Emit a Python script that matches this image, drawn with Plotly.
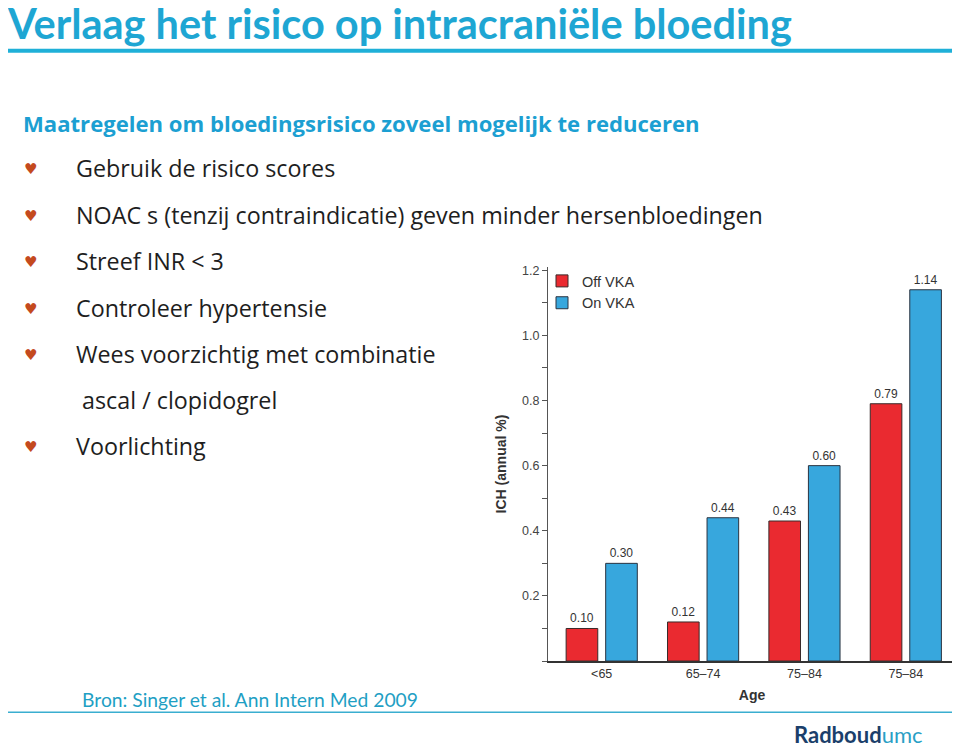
import plotly.graph_objects as go

# page body has an 8px margin, so the figure is sized to fill the rest of the window
OFF = 8
W, H = 960 - OFF, 749 - OFF

# ---- data ----
age_groups = ["<65", "65\u201374", "75\u201384", "75\u201384"]
off_vka = [0.10, 0.12, 0.43, 0.79]
on_vka = [0.30, 0.44, 0.60, 1.14]
y_ticks = [0.2, 0.4, 0.6, 0.8, 1.0, 1.2]

title = "Verlaag het risico op intracrani\u00eble bloeding"
subtitle = "Maatregelen om bloedingsrisico zoveel mogelijk te reduceren"
bullets = [
    ("Gebruik de risico scores", True),
    ("NOAC s (tenzij contraindicatie) geven minder hersenbloedingen", True),
    ("Streef INR < 3", True),
    ("Controleer hypertensie", True),
    ("Wees voorzichtig met combinatie", True),
    (" ascal / clopidogrel", False),
    ("Voorlichting", True),
]
source = "Bron: Singer et al. Ann Intern Med 2009"


def px(x):
    return (x - OFF) / W


def py(y):
    return 1 - (y - OFF) / H


xpos = list(range(len(age_groups)))
chart_font = "Liberation Sans, Arial, sans-serif"
teal = "#1ea6d3"

fig = go.Figure()
fig.add_trace(go.Bar(
    x=xpos, y=off_vka, name="Off VKA",
    marker=dict(color="#ea2a30", line=dict(color="#3a2a2a", width=1)),
    text=[f"{v:.2f}" for v in off_vka], textposition="outside",
    textfont=dict(size=12, color="#333333", family=chart_font),
    cliponaxis=False,
))
fig.add_trace(go.Bar(
    x=xpos, y=on_vka, name="On VKA",
    marker=dict(color="#37a7dd", line=dict(color="#2a3340", width=1)),
    text=[f"{v:.2f}" for v in on_vka], textposition="outside",
    textfont=dict(size=12, color="#333333", family=chart_font),
    cliponaxis=False,
))

fig.update_layout(
    width=W, height=H,
    margin=dict(l=0, r=0, t=0, b=0),
    paper_bgcolor="white", plot_bgcolor="white",
    barmode="group", bargap=0.22, bargroupgap=0.2,
    showlegend=True,
    legend=dict(x=px(542), y=py(263), xanchor="left", yanchor="top",
                font=dict(size=14.5, family=chart_font, color="#333333"),
                bgcolor="rgba(0,0,0,0)", tracegroupgap=0, itemwidth=30),
    xaxis=dict(
        domain=[px(548), px(956)], range=[-0.53, 3.495],
        tickvals=xpos, ticktext=age_groups, showline=True, linecolor="#333333",
        linewidth=1.5, ticks="", showgrid=False, zeroline=False,
        tickfont=dict(size=12.5, color="#333333", family=chart_font),
        title=dict(text="<b>Age</b>", font=dict(size=14, color="#333333", family=chart_font), standoff=10),
    ),
    yaxis=dict(
        domain=[py(660.7), py(265)], range=[0, 1.21],
        tickvals=y_ticks, tickformat=".1f", showline=True, linecolor="#555555",
        linewidth=1.2, ticks="outside", ticklen=5, tickcolor="#555555",
        minor=dict(ticks="outside", dtick=0.1, ticklen=5, tickcolor="#555555"),
        showgrid=False, zeroline=False,
        tickfont=dict(size=12.5, color="#444444", family=chart_font),
        title=dict(text="<b>ICH (annual %)</b>", font=dict(size=14, color="#333333", family=chart_font), standoff=12),
    ),
)

ann = []
ann.append(dict(text="<b>" + title + "</b>", x=px(5), y=py(20), xanchor="left", yanchor="middle",
                font=dict(size=41.5, color=teal, family="Lato, sans-serif")))
ann.append(dict(text="<b>" + subtitle + "</b>", x=px(21), y=py(120), xanchor="left", yanchor="middle",
                font=dict(size=22.1, color="#1c9fd2", family="Open Sans, sans-serif")))
row_y = [166, 213, 259, 306, 352, 399, 445]
for (txt, has_b), yy in zip(bullets, row_y):
    if has_b:
        ann.append(dict(text="\u2665", x=px(30), y=py(yy + 1), xanchor="center", yanchor="middle",
                        font=dict(size=15, color="#c44a1e", family="DejaVu Sans")))
    ann.append(dict(text=txt, x=px(74), y=py(yy), xanchor="left", yanchor="middle",
                    font=dict(size=23.3, color="#1e1e1e", family="Open Sans, sans-serif")))
ann.append(dict(text=source, x=px(80), y=py(699), xanchor="left", yanchor="middle",
                font=dict(size=19.3, color="#1f9fc4", family="Lato, sans-serif")))
ann.append(dict(text="<b><span style='color:#1b3f6b'>Radboud</span></b><span style='color:#2a9fc6'>umc</span>",
                x=px(792), y=py(734), xanchor="left", yanchor="middle",
                font=dict(size=22, family="Lato, sans-serif")))
for a in ann:
    a.update(xref="paper", yref="paper", showarrow=False)
fig.update_layout(annotations=ann)

fig.update_layout(shapes=[
    dict(type="line", xref="paper", yref="paper", x0=px(6), x1=px(957), y0=py(48), y1=py(48),
         line=dict(color="#1fb0d8", width=4)),
    dict(type="line", xref="paper", yref="paper", x0=px(6), x1=px(957), y0=py(712), y1=py(712),
         line=dict(color="#3aaed0", width=1.5)),
])

fig.write_html("out.html")
